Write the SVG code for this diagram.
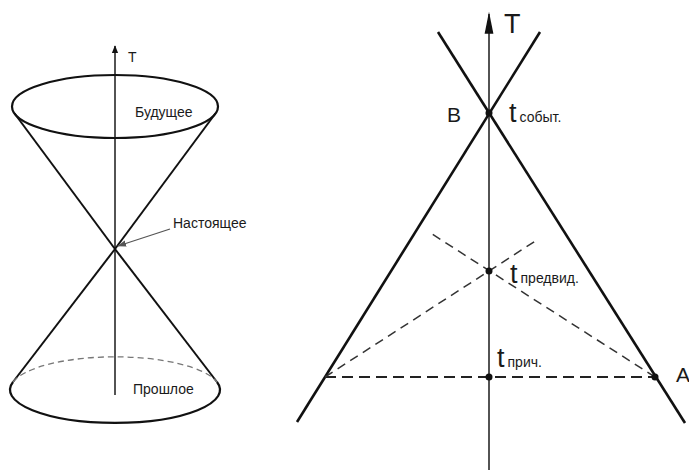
<svg xmlns="http://www.w3.org/2000/svg" width="689" height="470" viewBox="0 0 689 470">
<style>
text{font-family:"Liberation Sans",Arial,sans-serif;fill:#1a1a1a}
.ax{stroke:#1a1a1a;stroke-width:1.5;fill:none}
.cone{stroke:#111;stroke-width:2;fill:none}
.ell{stroke:#111;stroke-width:2.2;fill:none}
.back{stroke:#777;stroke-width:1.3;stroke-dasharray:6 4;fill:none}
.thick{stroke:#111;stroke-width:2.6;fill:none}
.dh{stroke:#222;stroke-width:2;stroke-dasharray:11 6;fill:none}
.dd{stroke:#333;stroke-width:1.5;stroke-dasharray:9 6;fill:none}
.dot{fill:#111}
.sm{font-size:14px}
.big{font-size:27px}
.mid{font-size:21px}
.sub{font-size:14px}
</style>
<defs>
<marker id="ah1" viewBox="0 0 10 10" refX="9" refY="5" markerWidth="8" markerHeight="8" markerUnits="userSpaceOnUse" orient="auto"><path d="M0,1 L10,5 L0,9 Z" fill="#111"/></marker>
<marker id="ah2" viewBox="0 0 10 10" refX="9" refY="5" markerWidth="22" markerHeight="22" markerUnits="userSpaceOnUse" orient="auto"><path d="M0,3 L10,5 L0,7 Z" fill="#111"/></marker>
<marker id="ah3" viewBox="0 0 10 10" refX="9" refY="5" markerWidth="9" markerHeight="9" markerUnits="userSpaceOnUse" orient="auto"><path d="M0,1.5 L10,5 L0,8.5 Z" fill="#555"/></marker>
</defs>

<g id="left-cone">
<line class="ax" x1="115" y1="395" x2="115" y2="46" marker-end="url(#ah1)"/>
<text class="sm" x="128" y="62">T</text>
<ellipse class="ell" cx="115" cy="106.5" rx="103" ry="31.5"/>
<line class="cone" x1="14.6" y1="113.5" x2="115" y2="249"/>
<line class="cone" x1="215.4" y1="113.5" x2="115" y2="249"/>
<line class="cone" x1="115" y1="249" x2="13" y2="382"/>
<line class="cone" x1="115" y1="249" x2="217" y2="382"/>
<path class="back" d="M13,382 A105,33 0 0 1 217,382"/>
<path class="ell" d="M13,382 A105,33 0 1 0 217,382"/>
<text class="sm" x="135" y="117">Будущее</text>
<text class="sm" x="133" y="394">Прошлое</text>
</g>

<g id="present-label">
<line x1="170" y1="229" x2="118" y2="246" stroke="#555" stroke-width="1.3" marker-end="url(#ah3)"/>
<text class="sm" x="173" y="228">Настоящее</text>
</g>

<g id="right-diagram">
<line class="ax" x1="489" y1="470" x2="489" y2="14" marker-end="url(#ah2)"/>
<text class="big" x="504" y="33">T</text>
<line class="thick" x1="297" y1="422" x2="540" y2="32"/>
<line class="thick" x1="685" y1="423" x2="438" y2="32"/>
<line class="dh" x1="325" y1="377" x2="655" y2="377"/>
<line class="dd" x1="325" y1="377" x2="537" y2="240"/>
<line class="dd" x1="655" y1="377" x2="432" y2="234"/>
<circle class="dot" cx="489" cy="113" r="3.5"/>
<circle class="dot" cx="489" cy="271" r="3.5"/>
<circle class="dot" cx="489" cy="377" r="3.5"/>
<circle class="dot" cx="655" cy="377" r="3.5"/>
<text class="mid" x="447" y="122">B</text>
<text x="509" y="122"><tspan class="big">t</tspan><tspan class="sub" dx="3">событ.</tspan></text>
<text x="510" y="283"><tspan class="big">t</tspan><tspan class="sub" dx="3">предвид.</tspan></text>
<text x="497" y="367"><tspan class="big">t</tspan><tspan class="sub" dx="3">прич.</tspan></text>
<text class="mid" x="676" y="382">A</text>
</g>
</svg>
